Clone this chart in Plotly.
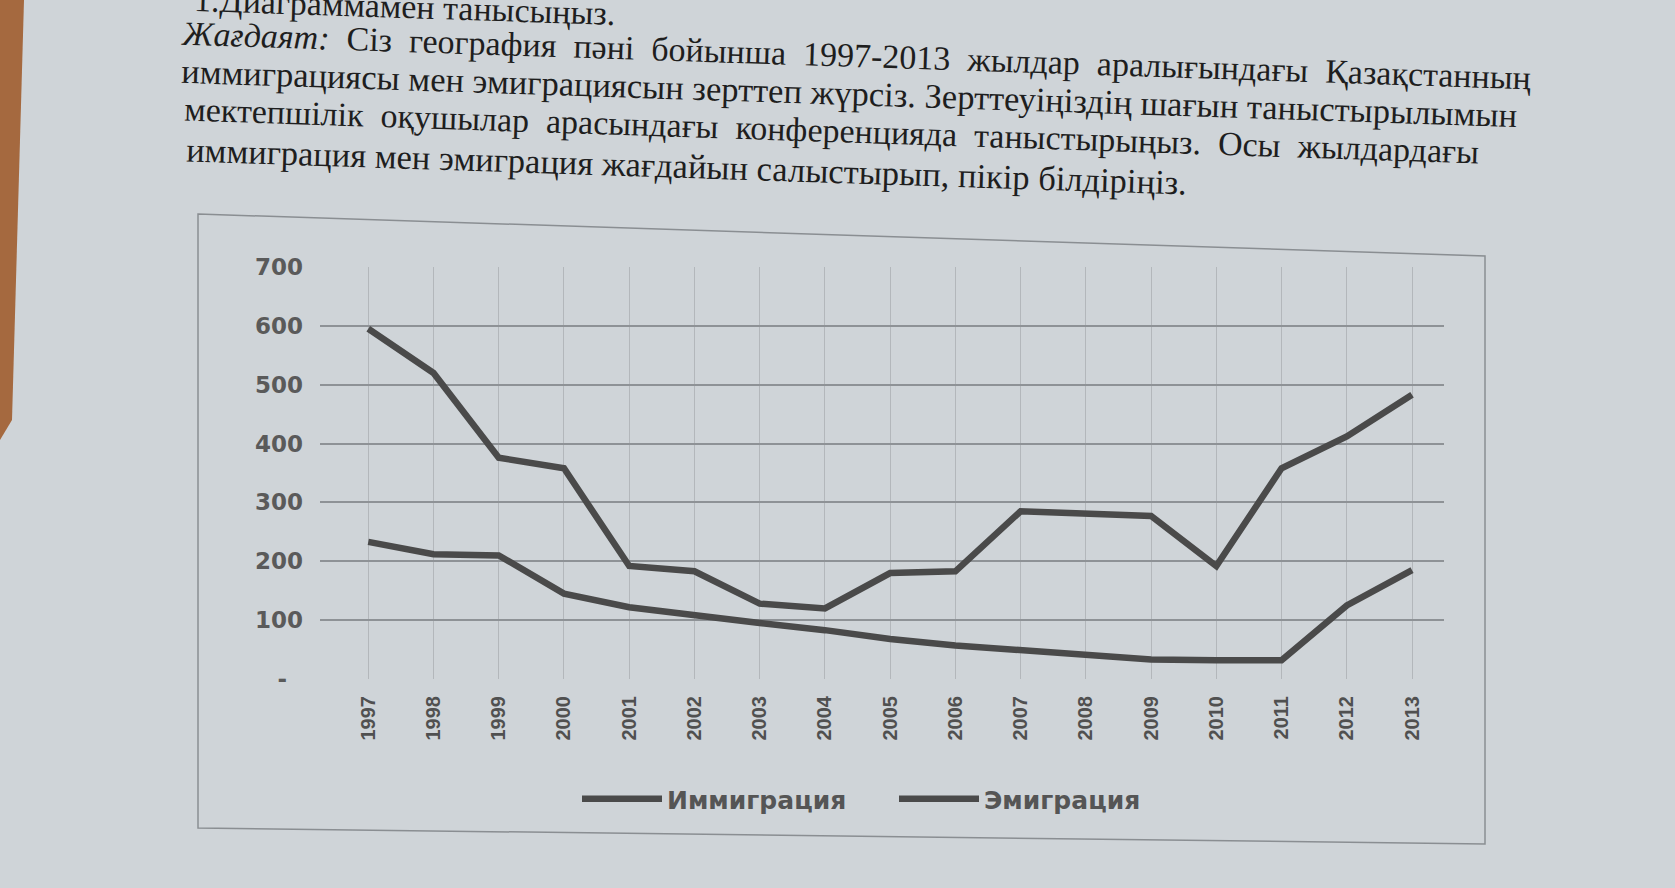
import plotly.graph_objects as go

# data
years = list(range(1997, 2014))
immigration = [233, 212, 210, 145, 122, 108, 95, 83, 68, 57, 49, 40, 33, 32, 32, 125, 185]
emigration = [595, 520, 376, 358, 192, 183, 128, 120, 180, 183, 285, 280, 277, 192, 358, 412, 483]

y_ticks = [0, 100, 200, 300, 400, 500, 600, 700]
y_labels = ["-\u00a0\u00a0", "100", "200", "300", "400", "500", "600", "700"]

text_rows = [
    "1.Диаграммамен танысыңыз.",
    "<i>Жағдаят:</i>  Сіз  география  пәні  бойынша  1997-2013  жылдар  аралығындағы  Қазақстанның",
    "иммиграциясы мен эмиграциясын зерттеп жүрсіз. Зерттеуіңіздің шағын таныстырылымын",
    "мектепшілік  оқушылар  арасындағы  конференцияда  таныстырыңыз.  Осы  жылдардағы",
    "иммиграция мен эмиграция жағдайын салыстырып, пікір білдіріңіз.",
]

W, H = 1675, 888
L, R, T, B = 320, 1444, 267, 679
page = "#cfd4d8"
ink = "#4a4a4a"


def px(v):
    return (v - L) / (R - L)


def py(v):
    return (B - v) / (B - T)


fig = go.Figure()

fig.add_trace(go.Scatter(x=years, y=immigration, mode="lines", name="Иммиграция",
                         line=dict(color=ink, width=6.5)))
fig.add_trace(go.Scatter(x=years, y=emigration, mode="lines", name="Эмиграция",
                         line=dict(color=ink, width=6.5)))

# photographed page: text rows above the chart
row_pos = [(405, 6, 34), (856, 56, 34), (849, 93, 34.5), (831, 131, 34), (686, 166, 34.5)]
annotations = []
for txt, (cx, cy, fs) in zip(text_rows, row_pos):
    annotations.append(dict(
        text=txt, x=px(cx), y=py(cy), xref="paper", yref="paper",
        xanchor="center", yanchor="middle", showarrow=False, textangle=1.9,
        font=dict(family="Liberation Serif", size=fs, color="#1e1e1e"),
    ))

# chart frame (slightly skewed, as in the photo) and table edge on the left
frame = "M{},{} L{},{} L{},{} L{},{} Z".format(
    px(198), py(214), px(1485), py(256), px(1485), py(844), px(198), py(828))
wood = "M{},{} L{},{} L{},{} L{},{} Z".format(
    px(0), py(0), px(24), py(0), px(12), py(420), px(0), py(440))

fig.update_layout(
    width=W, height=H,
    margin=dict(l=L, r=W - R, t=T, b=H - B),
    paper_bgcolor=page, plot_bgcolor=page,
    annotations=annotations,
    shapes=[
        dict(type="path", path=frame, xref="paper", yref="paper",
             line=dict(color="#8a8e92", width=1.5), layer="below"),
        dict(type="path", path=wood, xref="paper", yref="paper",
             fillcolor="#a5693f", line=dict(width=0), layer="above"),
    ],
    showlegend=True,
    legend=dict(orientation="h", x=px(577), y=py(799), xanchor="left", yanchor="middle",
                font=dict(family="DejaVu Sans", size=25, color="#555", weight="bold"),
                bgcolor="rgba(0,0,0,0)", itemwidth=80, entrywidth=222),
    xaxis=dict(
        range=[1996.26, 2013.49], tickvals=years, ticktext=[str(y) for y in years],
        tickangle=-90, showgrid=True, gridcolor="#b3b7bb", gridwidth=1,
        showline=False, zeroline=False, ticks="", ticklabelstandoff=12,
        tickfont=dict(family="Liberation Sans", size=20, color="#505050", weight="bold"),
    ),
    yaxis=dict(
        range=[0, 700], tickvals=y_ticks, ticktext=y_labels,
        showgrid=True, gridcolor="#8e9296", gridwidth=2,
        showline=False, zeroline=False, ticks="", ticklabelstandoff=16,
        tickfont=dict(family="DejaVu Sans", size=23, color="#5a5a5a", weight="bold"),
    ),
)

fig.write_html("out.html", config={"displayModeBar": False},
               post_script="document.body.style.margin='0';document.body.style.overflow='hidden';")
